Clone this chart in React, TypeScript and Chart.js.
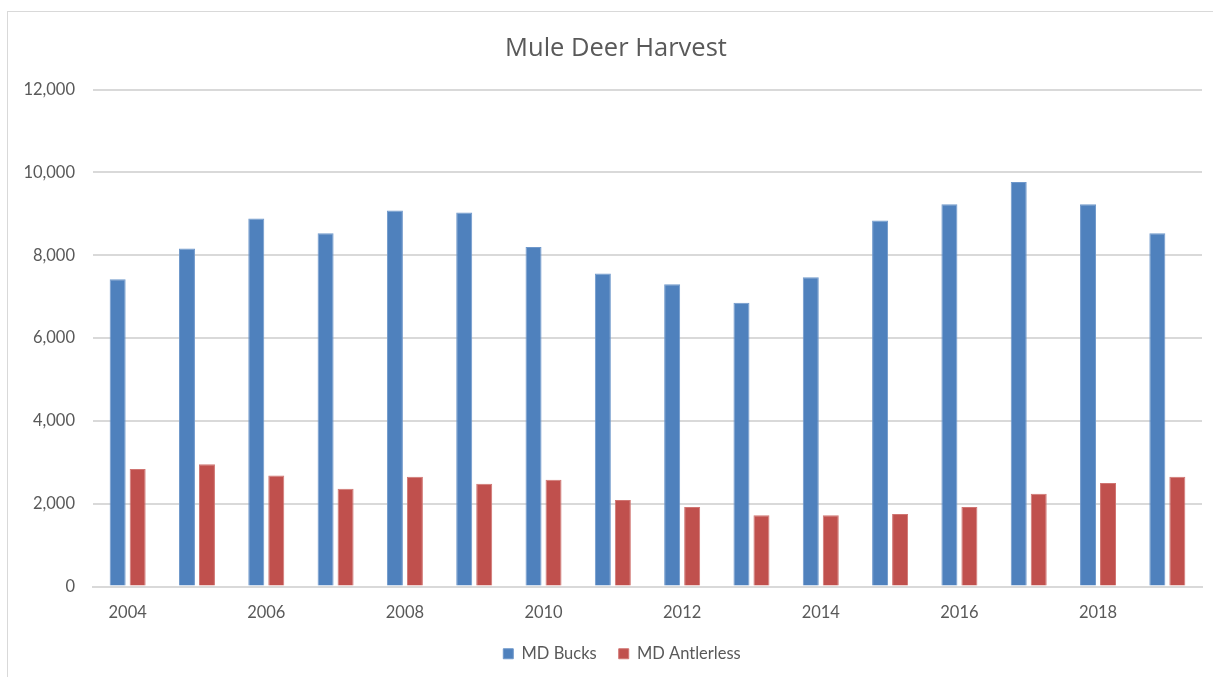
import React, { useEffect, useRef } from "react";
import { Chart, registerables } from "chart.js";

Chart.register(...registerables);

const years = ["2004","2005","2006","2007","2008","2009","2010","2011","2012","2013","2014","2015","2016","2017","2018","2019"];
const mdBucks = [7420, 8160, 8890, 8530, 9080, 9030, 8200, 7560, 7300, 6850, 7470, 8840, 9230, 9770, 9230, 8530];
const mdAntlerless = [2840, 2950, 2680, 2360, 2650, 2480, 2580, 2090, 1920, 1720, 1720, 1750, 1920, 2240, 2500, 2650];
const yTicks = [0, 2000, 4000, 6000, 8000, 10000, 12000];

const shiftBlocks = {
  id: "shiftBlocks",
  afterLayout(chart: any) {
    const lg = chart.legend;
    if (lg) { lg.left += 17; lg.right += 17; }
    const tb = chart.titleBlock;
    if (tb) { tb.left += 11; tb.right += 11; }
  },
};

export default function App() {
  const ref = useRef<HTMLCanvasElement | null>(null);
  useEffect(() => {
    const ctx = ref.current!;
    const textColor = "#595959";
    const chart = new Chart(ctx, {
      type: "bar",
      plugins: [shiftBlocks],
      data: {
        labels: years,
        datasets: [
          {
            label: "MD Bucks",
            data: mdBucks,
            backgroundColor: "#4f81bd",
            borderColor: "#6f98cb",
            borderWidth: 1,
            barPercentage: 0.8,
            categoryPercentage: 0.577,
          },
          {
            label: "MD Antlerless",
            data: mdAntlerless,
            backgroundColor: "#c0504d",
            borderColor: "#d07572",
            borderWidth: 1,
            barPercentage: 0.8,
            categoryPercentage: 0.577,
          },
        ],
      },
      options: {
        animation: false,
        responsive: false,
        maintainAspectRatio: false,
        layout: { padding: { left: 0, right: 11, top: 0, bottom: 5 } },
        plugins: {
          title: {
            display: true,
            text: "Mule Deer Harvest",
            color: textColor,
            font: { family: "'Open Sans', sans-serif", size: 25.5, weight: "normal" },
            padding: { top: 21, bottom: 26 },
          },
          legend: {
            position: "bottom",
            labels: {
              color: textColor,
              font: { family: "Lato, sans-serif", size: 16.5 },
              boxWidth: 10,
              boxHeight: 10,
              padding: 22,
            },
          },
          tooltip: { enabled: false },
        },
        scales: {
          x: {
            grid: { display: false, drawTicks: false },
            border: { display: true, color: "#d9d9d9", width: 2 },
            ticks: {
              color: textColor,
              font: { family: "Lato, sans-serif", size: 16.5 },
              padding: 16,
              autoSkip: false,
              maxRotation: 0,
              callback: (_v: any, i: number) => (i % 2 === 0 ? years[i] : ""),
            },
            afterFit: (s: any) => { s.height = 37; },
          },
          y: {
            min: 0,
            max: 12000,
            afterBuildTicks: (s: any) => { s.ticks = yTicks.map((v) => ({ value: v })); },
            grid: { color: "#d9d9d9", lineWidth: 2, drawTicks: false },
            border: { display: false },
            ticks: {
              color: textColor,
              font: { family: "Lato, sans-serif", size: 16.5 },
              padding: 18,
              callback: (v: any) => Number(v).toLocaleString("en-US"),
            },
            afterFit: (s: any) => { s.width = 85; },
          },
        },
      },
    });
    return () => chart.destroy();
  }, []);
  return (
    <div
      style={{
        position: "fixed",
        left: 7,
        top: 11,
        width: 1206,
        height: 666,
        borderLeft: "1px solid #d9d9d9",
        borderTop: "1px solid #d9d9d9",
        background: "#fff",
      }}
    >
      <canvas ref={ref} width={1205} height={665} style={{ display: "block" }} />
    </div>
  );
}
